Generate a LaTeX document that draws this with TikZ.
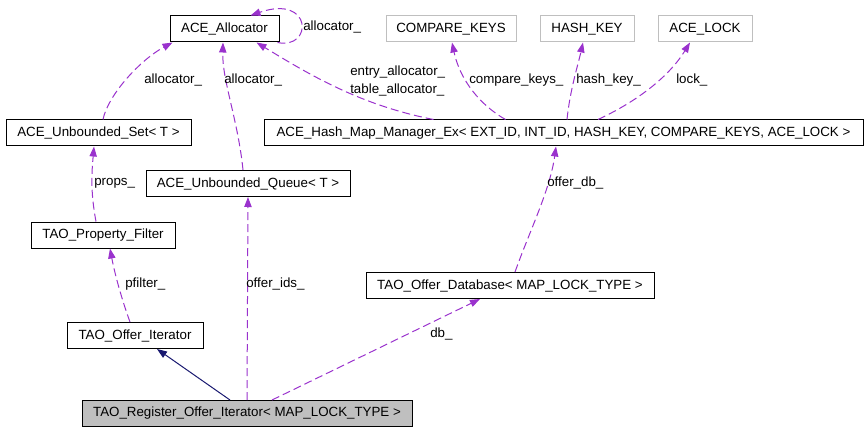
\documentclass[tikz,border=0pt]{standalone}
\usepackage{fontspec}
\setmainfont{Liberation Sans}
\usetikzlibrary{arrows.meta,calc}
\definecolor{usecol}{HTML}{9A32CD}
\definecolor{inhcol}{HTML}{191970}
\definecolor{boxgray}{HTML}{BFBFBF}

\begin{document}
\begin{tikzpicture}[x=0.75pt, y=-0.75pt,
    font=\fontsize{10}{14}\selectfont,
    cls/.style={draw, line width=0.75pt, minimum height=19.5pt, inner sep=0pt},
    ext/.style={cls, draw=boxgray},
    uses/.style={usecol, line width=0.75pt, dash pattern=on 6pt off 3pt, -{Triangle[length=7.5pt,width=5.5pt]}},
    inherits/.style={inhcol, line width=0.75pt, -{Triangle[length=7.5pt,width=5.5pt]}},
    lbl/.style={anchor=west, inner sep=0pt, align=left}]
    \useasboundingbox (0,0) rectangle (867,431);

    % classes
    \node[cls, minimum width=81.75pt] (alloc) at (224.5,29) {ACE\_Allocator};
    \node[ext, minimum width=97.5pt] (cmpkeys) at (451,29) {COMPARE\_KEYS};
    \node[ext, minimum width=70.5pt] (hashkey) at (587,29) {HASH\_KEY};
    \node[ext, minimum width=70.5pt] (acelock) at (705,29) {ACE\_LOCK};
    \node[cls, minimum width=138.75pt] (uset) at (98.5,133) {ACE\_Unbounded\_Set< T >};
    \node[cls, minimum width=449.25pt] (hashmap) at (563.5,133) {ACE\_Hash\_Map\_Manager\_Ex< EXT\_ID, INT\_ID, HASH\_KEY, COMPARE\_KEYS, ACE\_LOCK >};
    \node[cls, minimum width=153pt] (uqueue) at (248,183.5) {ACE\_Unbounded\_Queue< T >};
    \node[cls, minimum width=108pt] (propfilter) at (103,235) {TAO\_Property\_Filter};
    \node[cls, minimum width=216pt] (offerdb) at (510,285.5) {TAO\_Offer\_Database< MAP\_LOCK\_TYPE >};
    \node[cls, minimum width=102pt] (offeriter) at (135,335.5) {TAO\_Offer\_Iterator};
    \node[cls, fill=boxgray, minimum width=247.5pt] (register) at (247,413.5) {TAO\_Register\_Offer\_Iterator< MAP\_LOCK\_TYPE >};

    % usage edges
    \draw[uses] ($(uset.north)+(4.5,0)$) .. controls (108,95) and (140,60) .. ($(alloc.south)+(-52,0)$);
    \draw[uses] ($(uqueue.north)+(-5,0)$) .. controls (238,120) and (222,80) .. ($(alloc.south)+(-1.5,0)$);
    \draw[uses] ($(hashmap.north)+(-130,0)$) .. controls (360,105) and (310,75) .. ($(alloc.south)+(32,0)$);
    \draw[uses] ($(alloc.south east)+(-2,0)$) .. controls (313,50) and (313,-6) .. ($(alloc.north)+(26,0)$);
    \draw[uses] ($(hashmap.north)+(-58,0)$) .. controls (480,105) and (460,80) .. ($(cmpkeys.south)+(1,0)$);
    \draw[uses] ($(hashmap.north)+(3.5,0)$) .. controls (570,90) and (578,65) .. ($(hashkey.south)+(-4,0)$);
    \draw[uses] ($(hashmap.north)+(34.5,0)$) .. controls (640,100) and (670,75) .. ($(acelock.south)+(-15,0)$);
    \draw[uses] ($(offerdb.north)+(5,0)$) .. controls (530,230) and (550,190) .. ($(hashmap.south)+(-7.5,0)$);
    \draw[uses] ($(propfilter.north)+(-7,0)$) .. controls (90,190) and (92,170) .. ($(uset.south)+(-4.5,0)$);
    \draw[uses] ($(offeriter.north)+(-5,0)$) .. controls (122,300) and (115,275) .. ($(propfilter.south)+(7,0)$);
    \draw[uses] (register.north) -- (uqueue.south);
    \draw[uses] ($(register.north)+(25,0)$) -- ($(offerdb.south)+(-30,0)$);

    % inheritance
    \draw[inherits] ($(register.north)+(-17,0)$) -- ($(offeriter.south)+(22,0)$);

    % labels
    \node[lbl] (l1) at (144,80) {allocator\_};
    \node[lbl] (l2) at (224,80) {allocator\_};
    \node[lbl] (l3) at (350,81) {entry\_allocator\_\\table\_allocator\_};
    \node[lbl] (l4) at (303,27) {allocator\_};
    \node[lbl] (l5) at (469,80) {compare\_keys\_};
    \node[lbl] (l6) at (576,80) {hash\_key\_};
    \node[lbl] (l7) at (676,80) {lock\_};
    \node[lbl] (l8) at (547,183) {offer\_db\_};
    \node[lbl] (l9) at (94,183) {props\_};
    \node[lbl] (l10) at (125,284) {pfilter\_};
    \node[lbl] (l11) at (246,284) {offer\_ids\_};
    \node[lbl] (l12) at (430,334) {db\_};
\end{tikzpicture}
\end{document}
